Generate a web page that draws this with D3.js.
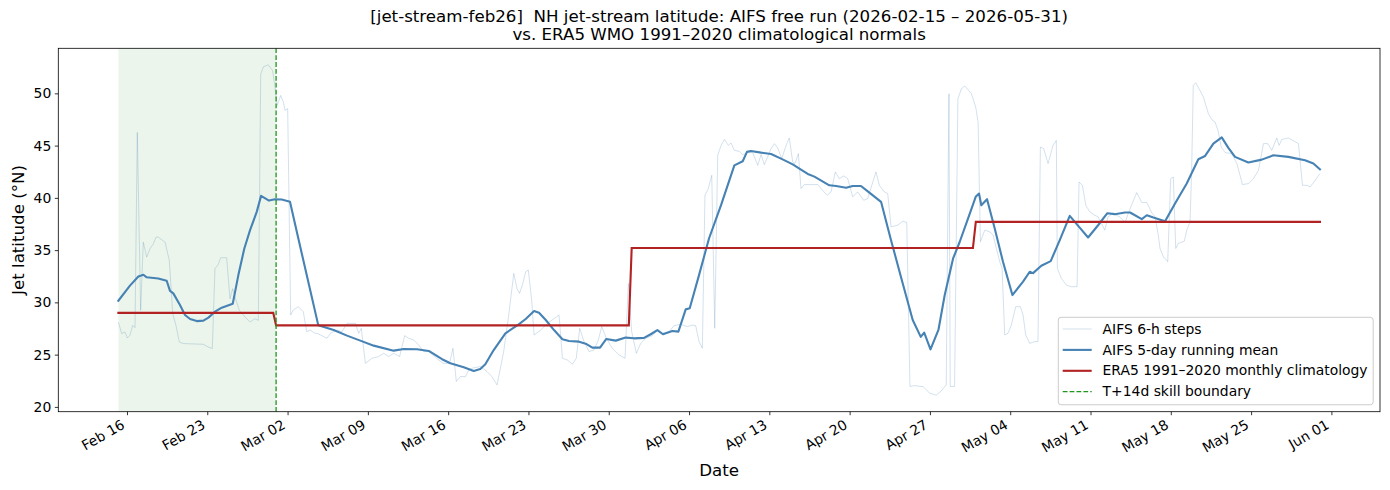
<!DOCTYPE html>
<html><head><meta charset="utf-8">
<script src="https://cdn.jsdelivr.net/npm/d3@7"></script>
<style>body{margin:0;background:#fff} svg{display:block;font-family:"DejaVu Sans",sans-serif}</style>
</head><body><svg id="c" width="1390" height="490"></svg>
<script>
// ---------------- data (days since 2026-02-15 00:00 UTC) ----------------
const BASE_DATE = "2026-02-15T00:00:00Z";
const rawDays = [0.25,0.54,0.83,1.03,1.26,1.5,1.7,1.9,2.19,2.42,2.72,3.0,3.3,3.53,3.73,4.32,4.69,4.99,5.27,5.56,5.91,7.65,8.09,8.44,8.67,8.96,9.17,9.69,9.98,10.21,10.42,10.79,11.29,11.73,12.16,12.45,12.66,12.89,13.32,13.7,13.9,14.1,14.4,14.63,14.78,15.01,15.27,15.5,15.94,16.37,16.67,16.96,17.39,17.57,18.44,18.73,19.31,19.75,20.18,20.91,21.2,21.43,21.78,22.36,22.94,23.38,23.81,24.25,24.77,25.21,25.56,26.0,26.43,26.87,27.3,28.18,28.55,29.13,29.42,29.71,30.06,30.5,30.79,31.08,31.81,32.39,32.82,33.26,33.84,34.28,34.72,35.0,35.22,35.47,35.76,35.99,36.29,36.49,37.07,37.65,38.67,38.96,39.39,39.83,40.17,40.47,40.84,41.28,41.72,42.09,42.39,42.79,43.31,43.9,44.42,44.71,45.0,45.41,45.79,46.23,46.8,47.24,47.67,48.26,48.69,49.27,49.85,50.29,50.58,50.87,51.16,51.39,51.68,51.98,52.24,52.5,52.79,53.08,53.43,53.66,53.95,54.39,54.68,55.12,55.55,55.99,56.28,56.57,57.15,57.44,57.73,58.08,58.46,58.74,59.04,59.24,59.53,59.76,60.05,61.22,61.5,62.03,62.38,62.75,63.1,63.48,63.83,64.27,64.7,65.23,65.58,66.02,66.3,66.59,67.03,67.32,67.61,68.19,68.63,68.98,69.26,69.64,70.22,70.4,70.98,71.55,71.99,72.42,72.66,72.77,73.15,73.44,73.74,74.04,74.62,74.99,75.2,75.4,75.78,76.22,76.51,76.79,77.09,77.29,77.52,77.81,78.1,78.48,78.88,79.12,79.35,79.7,80.14,80.42,80.63,80.92,81.3,81.73,82.02,82.11,82.46,82.9,83.33,83.83,84.0,84.29,84.59,84.94,85.37,85.66,86.24,86.53,86.97,87.55,88.01,88.45,89.03,89.47,89.91,90.34,90.63,90.91,91.06,91.35,91.73,91.99,92.22,92.43,92.65,93.18,93.39,93.68,93.82,93.96,94.17,94.46,94.84,95.28,95.63,95.86,96.15,96.39,96.74,97.32,97.76,98.25,98.78,99.2,99.64,100.08,100.45,100.8,101.24,101.44,101.68,102.26,103.13,103.48,103.86,104.15,104.59,105.0];
const rawLat = [28.12,27.01,27.16,26.59,26.85,27.8,27.58,46.27,29.24,35.76,34.33,35.13,35.6,36.24,36.24,35.76,34.01,28.92,27.8,26.21,26.06,25.99,25.73,25.58,33.22,33.63,34.27,34.27,30.35,31.31,30.51,29.24,28.6,28.12,28.44,28.28,51.84,52.54,52.73,52.16,50.6,48.85,49.8,49.17,48.37,48.53,28.79,29.27,29.59,29.11,27.2,27.35,27.04,27.04,26.56,27.04,27.35,27.2,27.99,27.99,27.04,27.52,24.17,24.65,24.81,25.13,24.81,25.13,24.81,26.82,26.56,26.4,25.92,25.29,25.29,24.49,24.17,24.17,25.61,22.43,22.9,22.9,23.53,23.7,23.86,23.38,22.9,22.1,25.29,28.79,32.77,31.34,30.86,31.65,32.93,33.09,30.07,26.88,27.35,27.99,28.79,24.65,24.49,24.08,24.65,27.52,26.25,25.29,25.45,26.4,27.68,26.56,25.61,24.97,24.65,31.81,27.2,25.13,26.08,26.56,26.82,27.35,27.04,27.2,27.77,27.9,27.68,27.83,27.77,26.25,25.61,40.25,40.89,42.16,27.52,44.07,45.0,45.59,45.02,45.25,44.55,44.45,44.14,44.33,44.33,43.11,44.14,43.18,44.71,45.19,44.78,43.75,45.02,45.73,43.43,43.28,44.23,40.89,41.27,41.27,40.89,40.25,40.57,42.48,41.84,42.1,41.84,40.09,40.57,39.77,39.93,41.52,42.48,41.2,40.57,40.41,37.23,37.38,37.77,37.64,21.95,22.04,21.95,21.95,21.31,21.12,21.53,22.1,49.96,21.95,21.95,49.48,50.44,50.7,49.96,48.69,47.26,35.8,36.91,36.75,36.43,35.16,33.89,33.25,26.88,27.04,27.83,29.59,29.59,28.79,26.88,26.08,26.25,26.25,44.87,44.71,43.28,45.02,45.5,33.25,32.29,31.65,31.5,31.5,41.52,41.2,39.29,38.66,38.34,38.18,36.91,38.18,38.5,38.18,37.64,38.98,40.5,39.55,39.55,38.57,38.18,36.43,35.16,34.37,33.89,41.84,42.0,35.16,35.64,35.86,36.91,37.71,42.8,50.76,51.01,50.44,49.65,48.05,47.41,47.26,46.3,44.87,44.33,44.23,43.28,41.27,41.37,41.84,42.63,45.19,45.19,44.55,45.73,45.02,45.59,45.73,45.19,41.2,41.2,41.05,41.68,42.32];
const meanDays = [0.25,1.26,1.99,2.43,2.72,3.73,4.46,4.75,5.04,5.62,6.06,6.5,7.08,7.66,8.1,8.67,9.26,10.22,10.71,11.23,11.73,12.31,12.69,13.38,13.9,14.49,15.21,15.94,16.67,17.68,19.02,20.18,21.34,22.51,24.25,25.13,26.29,27.31,28.47,29.19,30.36,31.23,31.8,32.24,32.97,33.99,35.15,35.76,36.49,36.92,37.51,38.23,38.96,39.54,40.41,40.99,41.57,42.24,42.79,43.61,44.48,45.2,46.08,46.66,47.24,47.73,48.54,49.07,49.71,50.06,50.87,51.74,52.79,53.95,54.68,55.05,55.4,56.28,57.15,58.02,59.04,59.62,60.35,60.93,62.23,62.82,63.69,64.27,64.99,65.72,66.74,67.61,68.63,69.5,70.2,70.5,71.05,71.75,72.29,73.02,73.6,74.32,74.99,75.28,75.48,75.98,76.65,77.37,78.19,79.12,79.7,79.99,80.71,81.53,82.32,83.19,84.0,84.79,85.66,86.47,87.11,88.01,88.45,89.47,89.91,90.48,91.5,92.37,93.39,94.4,94.99,95.71,96.44,97.02,97.6,98.76,99.93,100.94,102.25,103.7,104.43,105.0];
const meanLat = [30.16,31.6,32.48,32.64,32.4,32.28,32.07,31.1,30.86,29.74,28.79,28.41,28.21,28.25,28.54,29.11,29.49,29.87,32.61,35.16,36.91,38.66,40.19,39.74,39.87,39.84,39.62,36.11,32.61,27.8,27.35,26.82,26.34,25.86,25.38,25.54,25.51,25.35,24.56,24.17,23.79,23.44,23.63,24.08,25.44,27.04,27.9,28.41,29.17,29.01,28.31,27.35,26.47,26.3,26.24,26.05,25.67,25.67,26.5,26.34,26.63,26.56,26.6,26.95,27.35,26.95,27.26,27.2,29.33,29.43,32.61,36.11,39.3,43.11,43.5,44.4,44.49,44.33,44.2,43.75,43.2,42.8,42.29,42.03,41.2,41.14,40.96,41.13,41.14,40.5,39.62,35.95,31.81,28.31,26.7,27.1,25.5,27.4,30.7,34.2,35.8,38.02,40.1,40.41,39.29,39.87,37.07,33.89,30.7,31.98,32.93,32.8,33.5,33.95,35.95,38.28,37.23,36.21,37.38,38.53,38.44,38.6,38.6,37.96,38.34,38.12,37.77,39.46,41.37,43.69,44.01,45.19,45.79,44.78,43.92,43.38,43.66,44.07,43.92,43.59,43.28,42.73];
const climMonths = ["2026-02-01","2026-03-01","2026-04-01","2026-05-01"];
const climLat = [29.0, 27.8, 35.2, 37.7];
const skillBoundaryDay = 14;
const yTicks = [20, 25, 30, 35, 40, 45, 50];
const titleLines = ["[jet-stream-feb26]  NH jet-stream latitude: AIFS free run (2026-02-15 \u2013 2026-05-31)",
                    "vs. ERA5 WMO 1991\u20132020 climatological normals"];
const legendLabels = ["AIFS 6-h steps","AIFS 5-day running mean","ERA5 1991\u20132020 monthly climatology","T+14d skill boundary"];
const xLabel = "Date", yLabel = "Jet latitude (\u00b0N)";

// ---------------- layout ----------------
const m = {l:58.3, r:1380, t:48.3, b:411.7};
const FS = 13.9, FST = 16.67;
const t0 = Date.parse(BASE_DATE);
const toDate = d => new Date(t0 + d*864e5);
const raw = rawDays.map((d,i)=>({t:toDate(d), v:rawLat[i]}));
const mean = meanDays.map((d,i)=>({t:toDate(d), v:meanLat[i]}));
const [tmin, tmax] = d3.extent(raw, d=>d.t);
const span = tmax - tmin;
const x = d3.scaleUtc().domain([new Date(+tmin - .05*span), new Date(+tmax + .05*span)]).range([m.l, m.r]);
const [vmin, vmax] = d3.extent(rawLat);
const vs = vmax - vmin;
const y = d3.scaleLinear().domain([vmin - .05*vs, vmax + .05*vs]).range([m.b, m.t]);

const svg = d3.select("#c");
svg.append("defs").append("clipPath").attr("id","clip").append("rect")
  .attr("x",m.l).attr("y",m.t).attr("width",m.r-m.l).attr("height",m.b-m.t);
const plot = svg.append("g").attr("clip-path","url(#clip)");

const boundary = toDate(skillBoundaryDay);
plot.append("rect").attr("x",x(tmin)).attr("y",m.t).attr("width",x(boundary)-x(tmin)).attr("height",m.b-m.t)
  .attr("fill","green").attr("fill-opacity",0.08);

const line = d3.line().x(d=>x(d.t)).y(d=>y(d.v));
plot.append("path").datum(raw).attr("d",line).attr("fill","none")
  .attr("stroke","steelblue").attr("stroke-opacity",0.3).attr("stroke-width",0.8).attr("stroke-linejoin","round");
plot.append("path").datum(mean).attr("d",line).attr("fill","none")
  .attr("stroke","steelblue").attr("stroke-width",2.1).attr("stroke-linejoin","round").attr("stroke-linecap","square");

// climatology: monthly constant, switching at month boundaries (6-hourly sampling)
const climPts = [];
climMonths.forEach((mo,i)=>{
  const s = new Date(Math.max(Date.parse(mo+"T00:00:00Z"), +tmin));
  const e = i < climMonths.length-1 ? new Date(Date.parse(climMonths[i+1]+"T00:00:00Z") - 6*3600e3) : tmax;
  climPts.push({t:s, v:climLat[i]}, {t:e, v:climLat[i]});
});
plot.append("path").datum(climPts).attr("d",line).attr("fill","none")
  .attr("stroke","#b22222").attr("stroke-width",2.1).attr("stroke-linecap","square");

plot.append("line").attr("x1",x(boundary)).attr("x2",x(boundary)).attr("y1",m.t).attr("y2",m.b)
  .attr("stroke","#1e961e").attr("stroke-width",1.3).attr("stroke-dasharray","4.8,2.1");

// axes
const xt = d3.utcMonday.range(x.domain()[0], x.domain()[1]);
const gx = svg.append("g").attr("transform",`translate(0,${m.b})`)
  .call(d3.axisBottom(x).tickValues(xt).tickFormat(d3.utcFormat("%b %d")).tickSize(3.5).tickPadding(3.5));
gx.select(".domain").remove();
gx.selectAll(".tick line").attr("stroke","#000").attr("stroke-width",0.8);
gx.selectAll(".tick text").attr("y",null).attr("dy",null).attr("text-anchor","end")
  .attr("transform","translate(-1.7,15.8) rotate(-30)")
  .attr("font-size",FS).attr("font-family","DejaVu Sans").attr("fill","#000");

const gy = svg.append("g").attr("transform",`translate(${m.l},0)`)
  .call(d3.axisLeft(y).tickValues(yTicks).tickSize(3.5).tickPadding(3.5));
gy.select(".domain").remove();
gy.selectAll(".tick line").attr("stroke","#000").attr("stroke-width",0.8);
gy.selectAll(".tick text").attr("font-size",FS).attr("font-family","DejaVu Sans").attr("fill","#000");

svg.append("rect").attr("x",m.l).attr("y",m.t).attr("width",m.r-m.l).attr("height",m.b-m.t)
  .attr("fill","none").attr("stroke","#000").attr("stroke-width",0.8);

// labels
const cx = (m.l+m.r)/2;
svg.append("text").attr("x",cx).attr("y",476).attr("text-anchor","middle").attr("font-size",FST).text(xLabel);
svg.append("text").attr("transform",`translate(23.5,${(m.t+m.b)/2}) rotate(-90)`).attr("text-anchor","middle")
  .attr("font-size",FST).text(yLabel);
titleLines.forEach((s,i)=>{
  svg.append("text").attr("x",cx).attr("y",22+i*17.5).attr("text-anchor","middle").attr("font-size",FST)
    .style("white-space","pre").text(s);
});

// legend
const lg = svg.append("g");
const box = lg.append("rect");
const rowY = [329.0, 349.9, 370.8, 391.7];
const hx0 = 1062.7, hx1 = 1091.7, tx = 1102.6;
const styles = [
  {stroke:"steelblue", op:0.3, w:0.8, dash:null},
  {stroke:"steelblue", op:1, w:2.1, dash:null},
  {stroke:"#b22222", op:1, w:2.1, dash:null},
  {stroke:"#1e961e", op:1, w:1.3, dash:"4.8,2.1"}];
let maxW = 0;
legendLabels.forEach((lab,i)=>{
  const s = styles[i];
  lg.append("line").attr("x1",hx0).attr("x2",hx1).attr("y1",rowY[i]).attr("y2",rowY[i])
    .attr("stroke",s.stroke).attr("stroke-opacity",s.op).attr("stroke-width",s.w).attr("stroke-dasharray",s.dash);
  const t = lg.append("text").attr("x",tx).attr("y",rowY[i]+4.6).attr("font-size",FS).text(lab);
  maxW = Math.max(maxW, t.node().getComputedTextLength());
});
const bR = m.r - 6.95, bB = m.b - 6.95, bT = 317.3;
const bL = Math.min(1058.3, tx + maxW + 5.56 - (bR - 1058.3) > 0 ? bR - (tx + maxW + 5.56 - 1058.3) : 1058.3);
box.attr("x",1058.3).attr("y",bT).attr("width",Math.max(bR, tx+maxW+5.56)-1058.3).attr("height",bB-bT)
  .attr("rx",2.8).attr("fill","#fff").attr("fill-opacity",0.8).attr("stroke","#cccccc").attr("stroke-width",1);
</script></body></html>
